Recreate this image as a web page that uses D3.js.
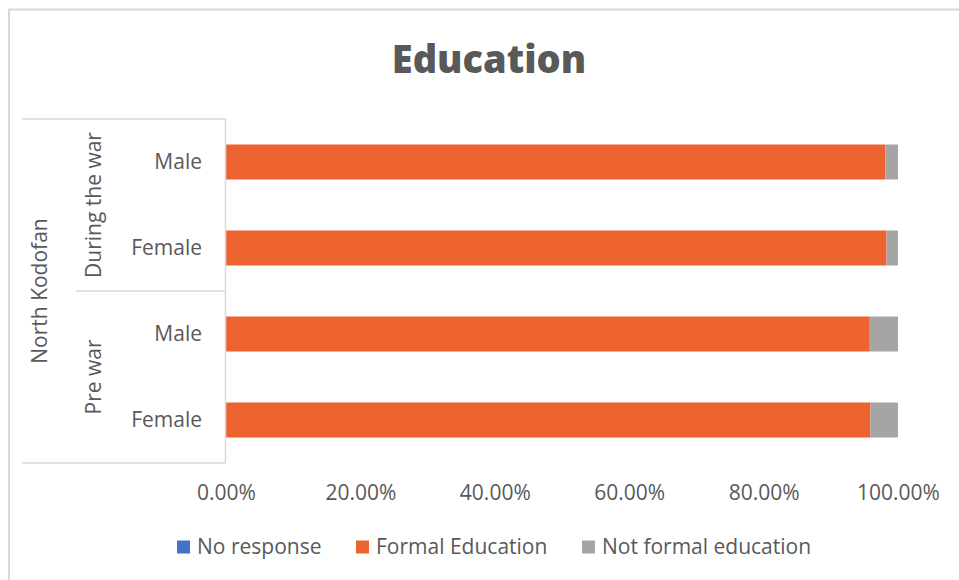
<!DOCTYPE html>
<html>
<head>
<meta charset="utf-8">
<script src="https://cdn.jsdelivr.net/npm/d3@7"></script>
<style>
  html, body { margin: 0; padding: 0; background: #fff; }
  svg { display: block; font-family: "Open Sans", sans-serif; }
</style>
</head>
<body>
<svg id="chart" width="959" height="580"></svg>
<script>
// Education by period and sex, North Kodofan (shares of respondents)
const region = "North Kodofan";
const periods = ["During the war", "Pre war"];
const rows = [
  { period: "During the war", sex: "Male" },
  { period: "During the war", sex: "Female" },
  { period: "Pre war", sex: "Male" },
  { period: "Pre war", sex: "Female" }
];
const seriesNames = ["No response", "Formal Education", "Not formal education"];
const noResponse = [0.0, 0.0, 0.0, 0.0];
const formalEducation = [0.981, 0.983, 0.958, 0.959];
const notFormalEducation = [0.019, 0.017, 0.042, 0.041];
const tickValues = [0, 0.2, 0.4, 0.6, 0.8, 1.0];
const colors = ["#4472C4", "#EC6330", "#A5A5A5"];

const svg = d3.select("#chart");
const textColor = "#595959";
const lineColor = "#D9D9D9";
const fs = 21;

// outer chart frame (top and left edges visible)
svg.append("path")
  .attr("d", "M9,580 L9,9.5 L959,9.5")
  .attr("fill", "none").attr("stroke", lineColor).attr("stroke-width", 2);

// title
svg.append("text")
  .attr("x", 489).attr("y", 73)
  .attr("text-anchor", "middle")
  .attr("font-size", 38).attr("font-weight", 800)
  .attr("fill", textColor)
  .text("Education");

const plot = { left: 226, right: 898, top: 119, bottom: 463 };

const x = d3.scaleLinear().domain([0, 1]).range([plot.left, plot.right]);
const y = d3.scaleBand()
  .domain(rows.map((d, i) => i))
  .range([plot.top, plot.bottom])
  .paddingInner(0.593).paddingOuter(0.2965);

// stacked data
const table = rows.map((r, i) => ({
  key: i,
  "No response": noResponse[i],
  "Formal Education": formalEducation[i],
  "Not formal education": notFormalEducation[i]
}));
const stacked = d3.stack().keys(seriesNames)(table);

svg.append("g").selectAll("g")
  .data(stacked)
  .join("g")
  .attr("fill", (d, i) => colors[i])
  .selectAll("rect")
  .data(d => d)
  .join("rect")
  .attr("x", d => x(d[0]))
  .attr("y", d => y(d.data.key))
  .attr("width", d => Math.max(0, x(d[1]) - x(d[0])))
  .attr("height", y.bandwidth());

// x axis tick labels
const xAxis = d3.axisBottom(x)
  .tickValues(tickValues)
  .tickFormat(d3.format(".2%"))
  .tickSize(0).tickPadding(0);
const gx = svg.append("g")
  .attr("transform", `translate(0,${plot.bottom + 37})`)
  .call(xAxis);
gx.select(".domain").remove();
gx.selectAll("text")
  .attr("font-family", "Open Sans, sans-serif")
  .attr("font-size", fs).attr("fill", textColor)
  .attr("dy", "0");

// category axis: multi-level labels with separator lines
const cat = svg.append("g").attr("stroke", lineColor).attr("stroke-width", 1.5).attr("fill", "none");
const midY = y(2) - (y.step() - y.bandwidth()) / 2;
cat.append("line").attr("x1", plot.left - 0.5).attr("x2", plot.left - 0.5).attr("y1", plot.top).attr("y2", plot.bottom);
cat.append("line").attr("x1", 22).attr("x2", plot.left).attr("y1", plot.top).attr("y2", plot.top);
cat.append("line").attr("x1", 22).attr("x2", plot.left).attr("y1", plot.bottom).attr("y2", plot.bottom);
cat.append("line").attr("x1", 76).attr("x2", plot.left).attr("y1", midY).attr("y2", midY);

// sex labels
svg.append("g").selectAll("text")
  .data(rows)
  .join("text")
  .attr("x", 202)
  .attr("y", (d, i) => y(i) + y.bandwidth() / 2)
  .attr("dy", "0.35em")
  .attr("text-anchor", "end")
  .attr("font-size", fs).attr("fill", textColor)
  .text(d => d.sex);

// period labels (rotated)
periods.forEach((p, k) => {
  const cy = k === 0 ? (plot.top + midY) / 2 : (midY + plot.bottom) / 2;
  svg.append("text")
    .attr("transform", `translate(94,${cy}) rotate(-90)`)
    .attr("text-anchor", "middle").attr("dy", "0.35em")
    .attr("font-size", fs).attr("fill", textColor)
    .text(p);
});

// region label (rotated)
svg.append("text")
  .attr("transform", `translate(40,${(plot.top + plot.bottom) / 2}) rotate(-90)`)
  .attr("text-anchor", "middle").attr("dy", "0.35em")
  .attr("font-size", fs).attr("fill", textColor)
  .text(region);

// legend
const legendX = [177, 356, 582];
const lg = svg.append("g").selectAll("g")
  .data(seriesNames)
  .join("g")
  .attr("transform", (d, i) => `translate(${legendX[i]},547)`);
lg.append("rect").attr("x", 0).attr("y", -6.5).attr("width", 13).attr("height", 13)
  .attr("fill", (d, i) => colors[i]);
lg.append("text").attr("x", 20).attr("dy", "0.35em")
  .attr("font-size", fs).attr("fill", textColor)
  .text(d => d);
</script>
</body>
</html>
